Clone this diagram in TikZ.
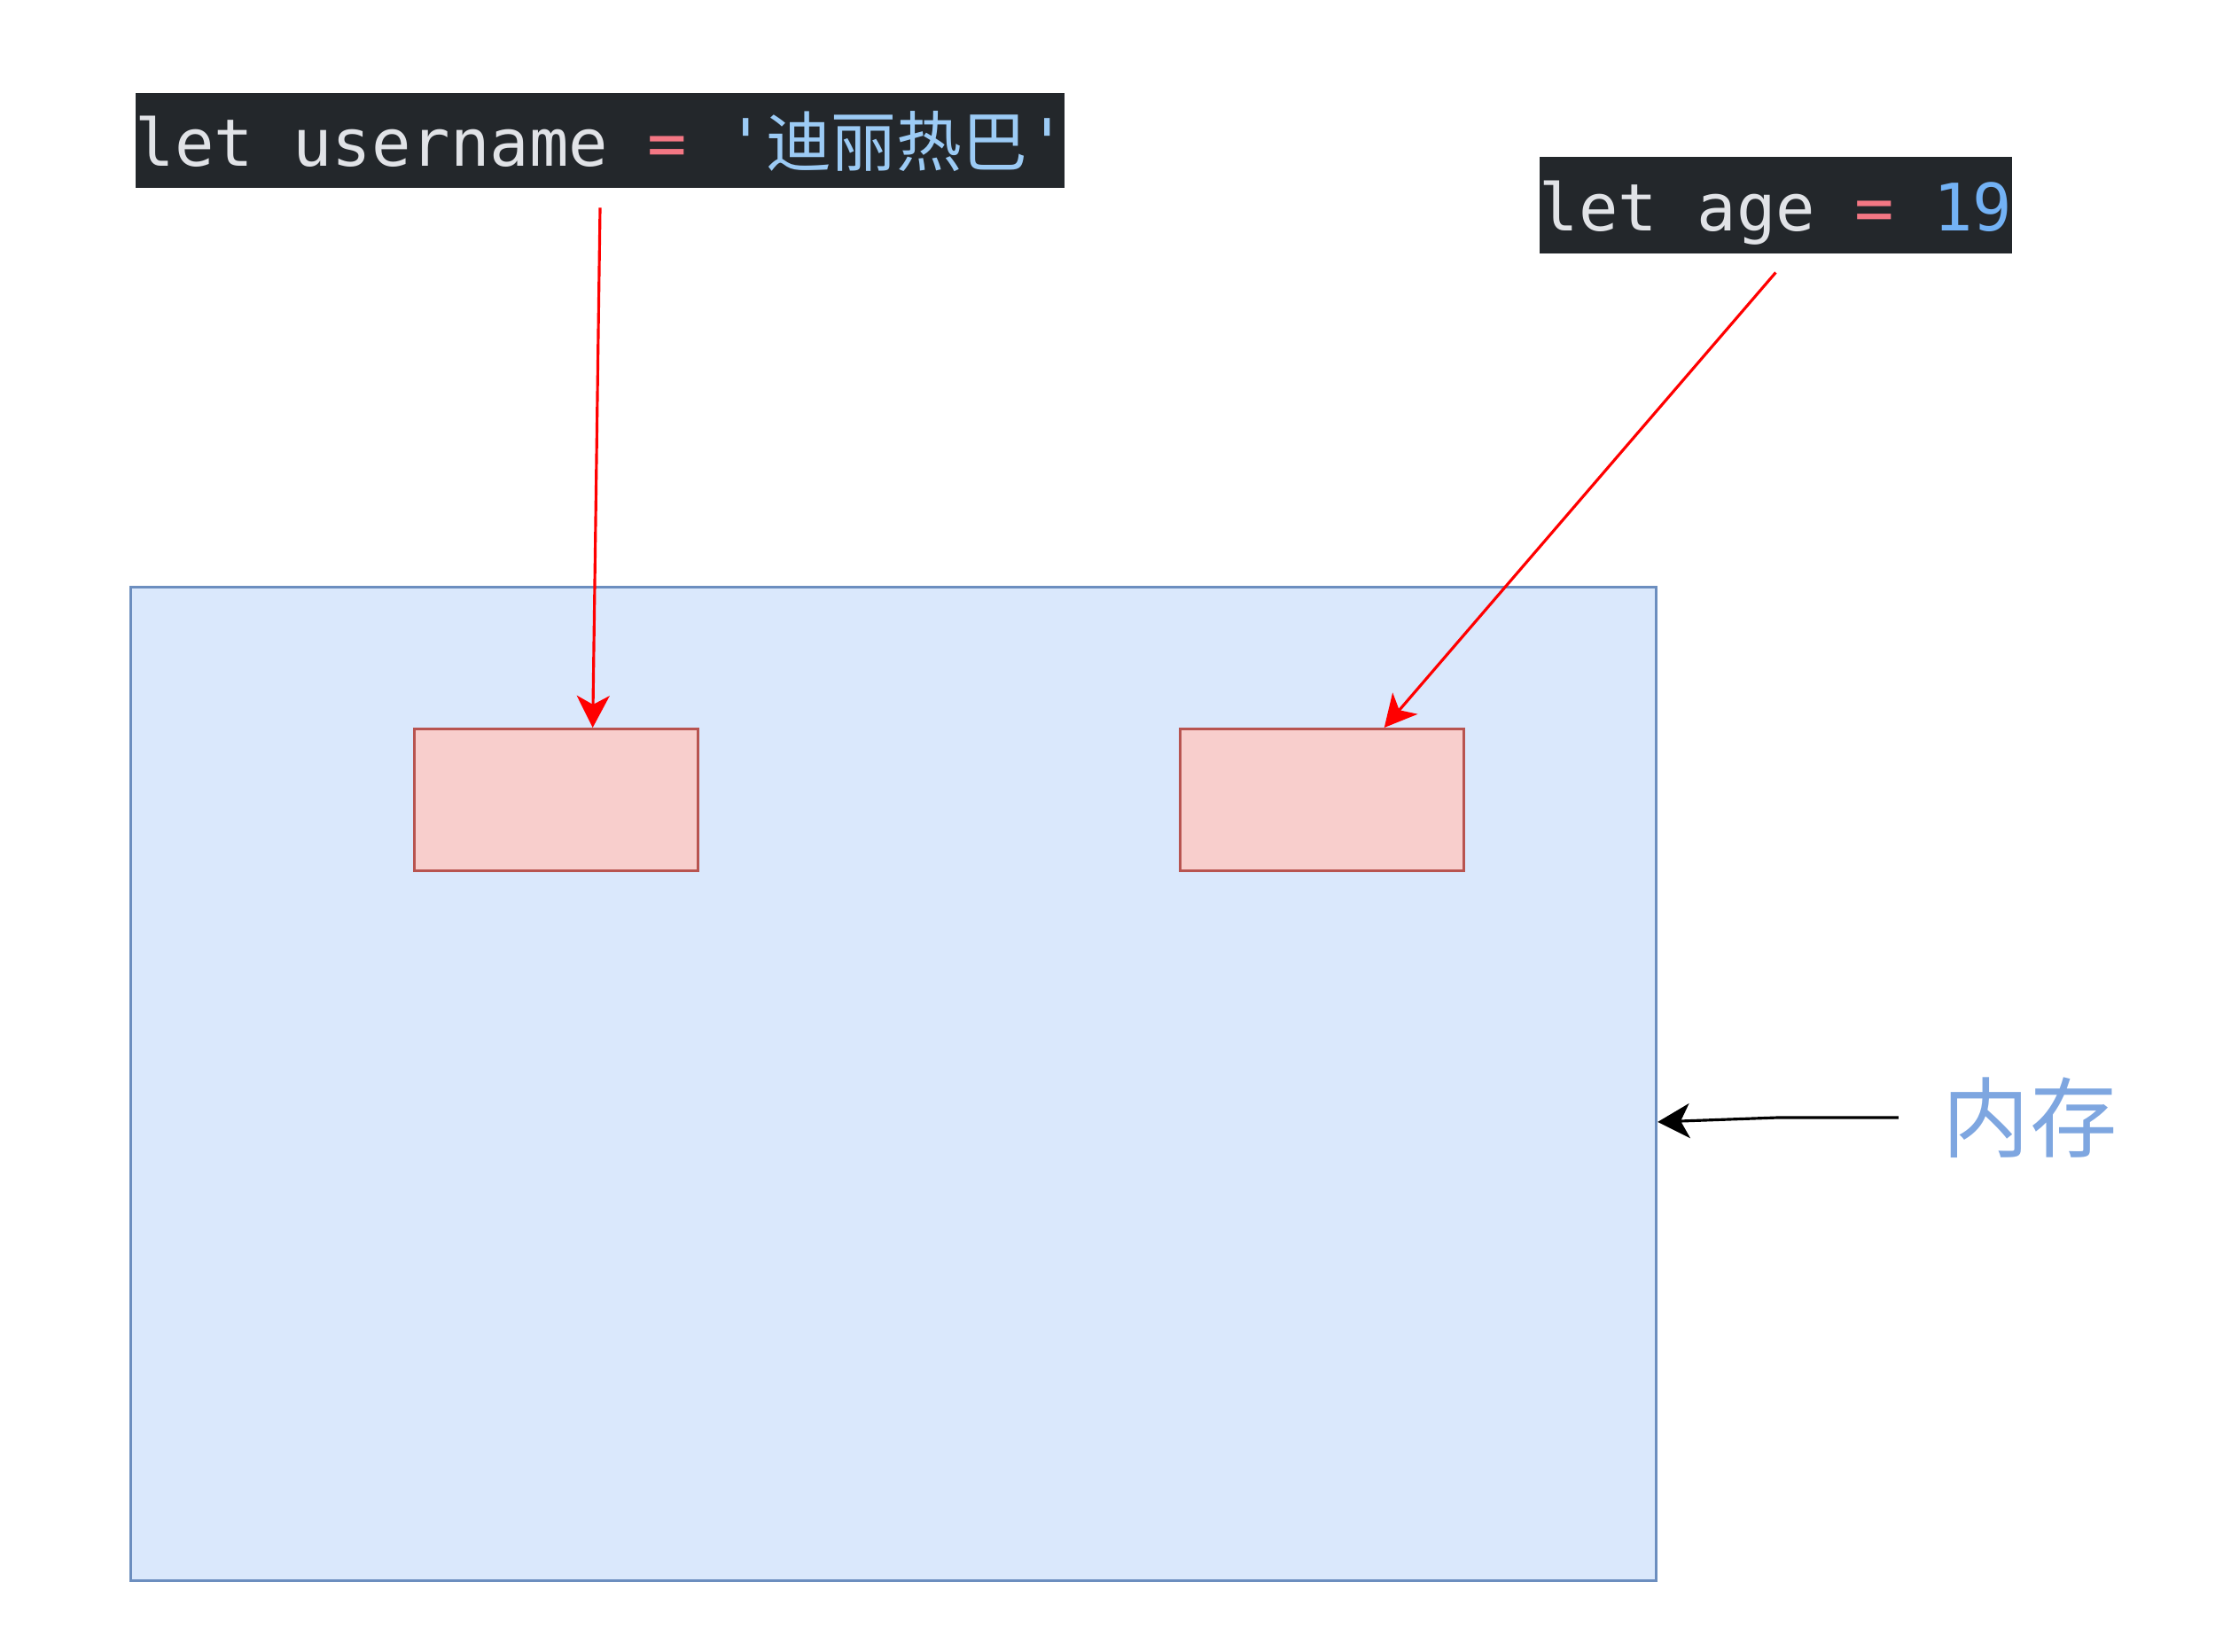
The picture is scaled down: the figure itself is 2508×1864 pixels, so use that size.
\documentclass[tikz,border=0pt]{standalone}
\usepackage{fontspec}
\setmonofont{DejaVu Sans Mono}
\newfontfamily\cjk{Noto Sans CJK SC}
\usetikzlibrary{arrows.meta}

\definecolor{codebg}{HTML}{23272B}
\definecolor{codefg}{HTML}{E1E3E7}
\definecolor{codeop}{HTML}{F47784}
\definecolor{codestr}{HTML}{9CCBF5}
\definecolor{codenum}{HTML}{73B2F5}
\definecolor{memfill}{HTML}{DAE8FC}
\definecolor{memline}{HTML}{6C8EBF}
\definecolor{cellfill}{HTML}{F8CECC}
\definecolor{cellline}{HTML}{B85450}
\definecolor{labelblue}{HTML}{7EA6E0}

% one monospace cell of blank
\newcommand{\codesp}{\hspace*{0.602em}}

\begin{document}
\begin{tikzpicture}[x=0.01cm,y=-0.01cm]

    \tikzset{
      codebox/.style={
        fill=codebg,
        text=codefg,
        anchor=north west,
        inner sep=0pt,
        align=left,
        font=\fontsize{21}{25}\selectfont\ttfamily,
      },
      cell/.style={
        draw=cellline,
        fill=cellfill,
        line width=0.9pt,
        anchor=north west,
        inner sep=0pt,
        minimum width=3.2cm,
        minimum height=1.6cm,
      },
      pointer/.style={
        draw=red,
        line width=0.9pt,
        -{Stealth[length=0.36cm,width=0.37cm,inset=0.1cm]},
      },
    }
    \useasboundingbox (0,0) rectangle (2508,1864);

	 % code lines
	 \node[codebox,text width=10.48cm,text height=0.83cm,text depth=0.24cm] (user) at (152,104)
	   {let\codesp username\codesp{\color{codeop}=}\codesp{\color{codestr}'{\cjk 迪丽热巴}'}};

	 \node[codebox,text width=5.33cm,text height=0.84cm,text depth=0.25cm] (age) at (1736,176)
	   {let\codesp age\codesp{\color{codeop}=}\codesp{\color{codenum}19}};

	 % memory
	 \node[draw=memline,fill=memfill,line width=0.9pt,anchor=north west,inner sep=0pt,
	   minimum width=17.2cm,minimum height=11.2cm] (memory) at (146,661) {};

	 \node[cell] (userCell) at (466,821) {};

	 \node[cell] (ageCell) at (1330,821) {};

	 \node[text=labelblue,inner sep=0pt,font=\fontsize{28}{32}\selectfont\cjk] (memLabel) at (2290,1261) {内存};

	 % arrows
	 \draw[pointer] ([yshift=-0.22cm]user.south) -- ([xshift=0.41cm]userCell.north);

	 \draw[pointer] ([yshift=-0.21cm]age.south) -- ([xshift=0.70cm]ageCell.north);

	 \draw[line width=0.9pt,-{Stealth[length=0.36cm,width=0.39cm,inset=0.1cm]}]
	   ([xshift=-0.49cm]memLabel.west) -- ++(-136,0) -- ([yshift=-0.43cm]memory.east);

\end{tikzpicture}
\end{document}
